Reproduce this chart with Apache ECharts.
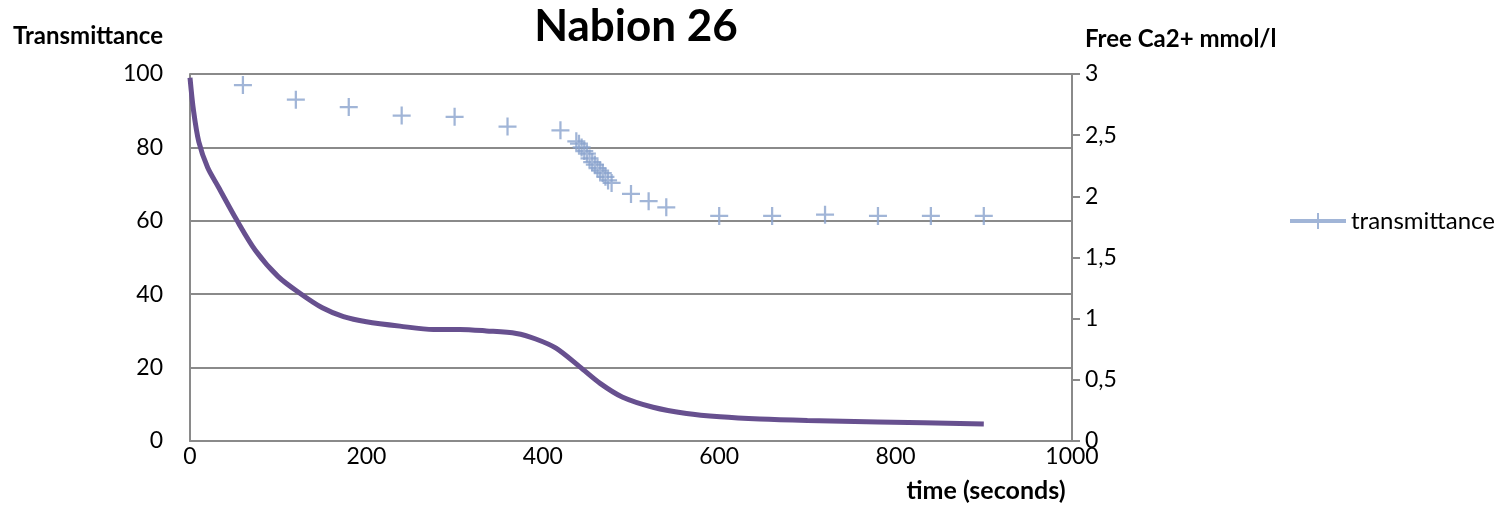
<!DOCTYPE html>
<html>
<head>
<meta charset="utf-8">
<script src="https://cdn.jsdelivr.net/npm/echarts@6/dist/echarts.min.js"></script>
<style>
  html, body { margin: 0; padding: 0; background: #fff; }
  #graph { width: 1499px; height: 505px; }
</style>
</head>
<body>
<div id="graph"></div>
<script>
// purple curve, read on the left axis (transmittance, %)
var transTime = [0, 4, 10, 20, 32, 53, 74, 100, 125, 150, 174, 200, 238, 276, 306, 336, 370, 392, 415, 442, 465, 490, 525, 563, 601, 646, 700, 780, 900]
var transValue = [99, 90, 81.5, 74.5, 69.3, 60.2, 52, 44.8, 40.2, 36.3, 33.9, 32.5, 31.3, 30.4, 30.4, 30.0, 29.3, 27.8, 25.3, 20.2, 15.7, 12.0, 9.2, 7.5, 6.6, 6.0, 5.6, 5.2, 4.6]

// blue crosses, read on the right axis (free Ca2+ mmol/l)
var caTime = [60, 120, 180, 240, 300, 360, 420, 438, 441, 444, 447, 450, 453, 456, 459, 462, 465, 468, 471, 474, 478, 500, 520, 540, 600, 660, 720, 780, 840, 900]
var caValue = [2.91, 2.79, 2.73, 2.66, 2.65, 2.57, 2.54, 2.45, 2.43, 2.40, 2.37, 2.35, 2.31, 2.28, 2.26, 2.23, 2.21, 2.19, 2.16, 2.13, 2.11, 2.02, 1.96, 1.91, 1.84, 1.84, 1.85, 1.84, 1.84, 1.84]

var leftTicks = [0, 20, 40, 60, 80, 100]
var rightTicks = [0, 0.5, 1, 1.5, 2, 2.5, 3]

var font = 'Lato, "Open Sans", sans-serif'
var gray = '#8a8a8a'
var blue = '#8aa2cd'
var purple = '#67508f'

var transData = transTime.map(function (t, i) { return [t, transValue[i]] })
var caData = caTime.map(function (t, i) { return [t, caValue[i]] })

var crossPath = 'path://M0,7L16,7L16,9L0,9Z M7,0L9,0L9,16L7,16Z'
var legendPath = 'path://M0,6L56,6L56,10L0,10Z M27,0L29,0L29,16L27,16Z'

var myChart = echarts.init(document.getElementById('graph'))
var option = {
  animation: false,
  textStyle: { fontFamily: font },
  title: [
    { text: 'Nabion 26', left: 636, top: 5, textAlign: 'center', padding: 0,
      textStyle: { fontFamily: font, fontSize: 44, fontWeight: 'bold', color: '#000' } },
    { text: 'Transmittance', left: 13, top: 24, padding: 0,
      textStyle: { fontFamily: font, fontSize: 24, fontWeight: 'bold', color: '#000' } },
    { text: 'Free Ca2+ mmol/l', left: 1085, top: 27, padding: 0,
      textStyle: { fontFamily: font, fontSize: 24, fontWeight: 'bold', color: '#000' } },
    { text: 'time (seconds)', left: 986, top: 478, textAlign: 'center', padding: 0,
      textStyle: { fontFamily: font, fontSize: 25, fontWeight: 'bold', color: '#000' } }
  ],
  legend: {
    left: 1285,
    top: 204,
    itemWidth: 56,
    itemHeight: 16,
    itemGap: 4,
    data: [{ name: 'transmittance', icon: legendPath, itemStyle: { color: blue } }],
    textStyle: { fontFamily: font, fontSize: 24, color: '#000' }
  },
  grid: { left: 190, right: 427, top: 74, bottom: 64 },
  xAxis: {
    type: 'value',
    min: 0,
    max: 1000,
    interval: 200,
    axisLine: { lineStyle: { color: gray, width: 2 } },
    axisTick: { show: false },
    splitLine: { show: false },
    axisLabel: {
      color: '#000', fontSize: 23, margin: 4, fontFamily: font,
      formatter: function (v) { return String(v) }
    }
  },
  yAxis: [
    {
      type: 'value',
      min: leftTicks[0],
      max: leftTicks[leftTicks.length - 1],
      interval: 20,
      axisLine: { show: true, lineStyle: { color: gray, width: 2 } },
      axisTick: { show: false },
      splitLine: { lineStyle: { color: gray, width: 2 } },
      axisLabel: { color: '#000', fontSize: 23, margin: 27, fontFamily: font }
    },
    {
      type: 'value',
      position: 'right',
      min: rightTicks[0],
      max: rightTicks[rightTicks.length - 1],
      interval: 0.5,
      axisLine: { show: true, lineStyle: { color: gray, width: 2 } },
      axisTick: { show: true, length: 8, lineStyle: { color: gray, width: 2 } },
      splitLine: { show: false },
      axisLabel: {
        color: '#000', fontSize: 23, margin: 13, fontFamily: font,
        formatter: function (v) { return String(v).replace('.', ',') }
      }
    }
  ],
  series: [
    {
      name: 'transmission curve',
      type: 'line',
      yAxisIndex: 0,
      data: transData,
      smooth: 0.3,
      showSymbol: false,
      lineStyle: { color: purple, width: 5 },
      z: 3
    },
    {
      name: 'transmittance',
      type: 'scatter',
      yAxisIndex: 1,
      data: caData,
      symbol: crossPath,
      symbolSize: 18,
      itemStyle: { color: blue },
      z: 4
    }
  ]
}
myChart.setOption(option)
</script>
</body>
</html>
